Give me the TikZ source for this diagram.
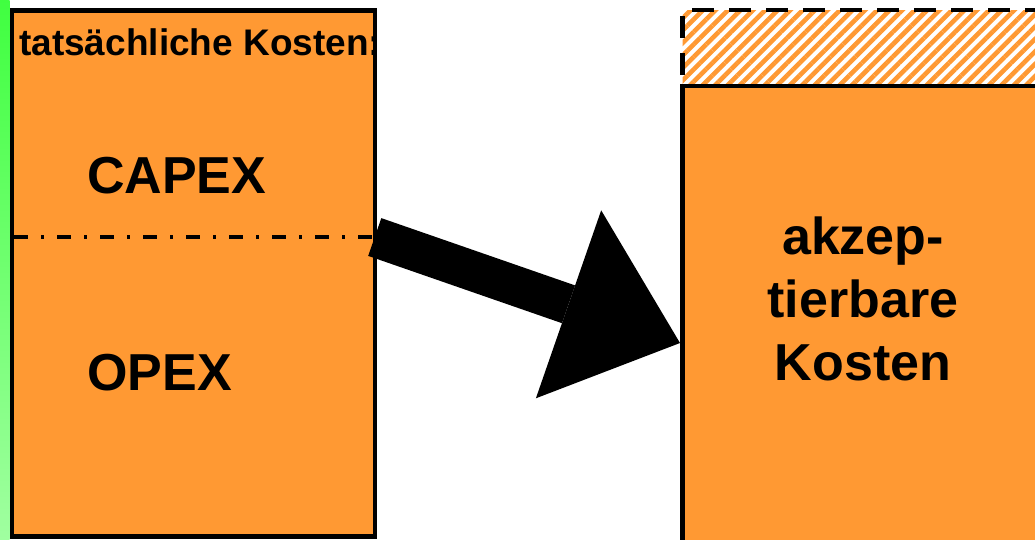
\documentclass[tikz,border=0pt]{standalone}
\usepackage{fontspec}
\setmainfont{Liberation Sans}
\usetikzlibrary{arrows.meta,patterns.meta}
\definecolor{kostorange}{RGB}{255,153,51}
\definecolor{stripgreen}{RGB}{64,255,64}
\definecolor{stripgreenlight}{RGB}{160,255,160}
\def\boxw{363pt}
\def\lw{4.5pt}
\tikzset{
  costbox/.style={draw=black, line width=\lw, fill=kostorange, inner sep=0pt, outer sep=0pt},
  bigtext/.style={font=\fontsize{52}{63}\selectfont\bfseries, inner sep=0pt},
  headtext/.style={font=\fontsize{37}{44}\selectfont\bfseries, inner sep=0pt},
  splitline/.style={line width=4pt, dash pattern=on 14pt off 13pt on 3pt off 13pt},
}

\begin{document}
\begin{tikzpicture}[x=1pt,y=-1pt]
\useasboundingbox (0,0) rectangle (1035,539);
\clip (0,0) rectangle (1035,539);

% green strip at the left
\shade[top color=stripgreen, bottom color=stripgreenlight] (0,0) rectangle (9.5,539);

% actual costs
\node[costbox, minimum width=\boxw, minimum height=526pt] (actual) at (193.25,273.5) {};
\coordinate (split) at (actual.east |- 0,237);
\draw[splitline] ([xshift=2.25pt]actual.west |- 0,237) -- (split);
\node[headtext, anchor=base west] (actualtitle) at (19,55) {tatsächliche Kosten:};
\node[bigtext, anchor=base west] (capex) at (87,193) {CAPEX};
\node[bigtext, anchor=base west] (opex) at (87,390) {OPEX};

% acceptable costs
\node[costbox, minimum width=366pt, minimum height=460pt, anchor=north west] (accepted) at (682.5,86) {};
\node[draw=black, line width=\lw, dash pattern=on 22pt off 15pt, inner sep=0pt, outer sep=0pt,
      pattern={Lines[angle=45,distance=8.8pt,line width=4.6pt]}, pattern color=kostorange,
      minimum width=366pt, minimum height=76pt, anchor=south west] (extra) at (accepted.north west) {};
\draw[line width=\lw] (accepted.north west) -- (accepted.north east);
\node[bigtext, align=center, anchor=north] (acceptedtext) at (863,217) {akzep-\\tierbare\\Kosten};

% big arrow
\coordinate (target) at (680,343);
\draw[line width=40pt, -{Triangle[length=118pt,width=199pt,line width=0pt]}] (split) -- (target);
\end{tikzpicture}
\end{document}
